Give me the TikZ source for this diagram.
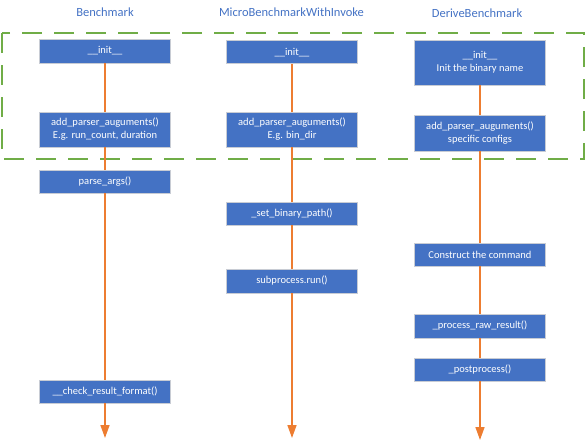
\documentclass[tikz,border=0pt]{standalone}
\usepackage{fontspec}
\setmainfont{Carlito}
\usetikzlibrary{arrows.meta}
\definecolor{boxblue}{HTML}{4472C4}
\definecolor{flow}{HTML}{ED7D31}
\definecolor{grp}{HTML}{70AD47}
\definecolor{boxedge}{HTML}{C8CCD4}
\tikzset{
  fn/.style={rectangle, fill=boxblue, draw=boxedge, line width=0.8pt, text=white,
    minimum width=131pt, inner sep=0pt, align=center,
    font=\fontsize{10.5}{13}\selectfont},
  title/.style={text=boxblue, font=\fontsize{12.5}{14}\selectfont, inner sep=0pt},
  flowline/.style={draw=flow, line width=1.5pt},
  flowend/.style={flowline, -{Triangle[width=9pt,length=13pt]}},
  group/.style={draw=grp, line width=1.3pt, dash pattern=on 20pt off 12pt}
}
\begin{document}
\begin{tikzpicture}[x=1pt,y=-1pt]
\useasboundingbox (0,0) rectangle (586,442);
\draw[group] (2,33) rectangle (584,159);
% titles
\node[title] (t1) at (105,12) {Benchmark};
\node[title] (t2) at (291.5,12) {MicroBenchmarkWithInvoke};
\node[title] (t3) at (477,13) {DeriveBenchmark};
% Benchmark
\node[fn, minimum height=24pt] (b1) at (105,51) {\_\_init\_\_};
\node[fn, minimum height=35pt] (b2) at (105,129.5) {add\_parser\_auguments()\\E.g. run\_count, duration};
\node[fn, minimum height=23pt] (b3) at (105,181.5) {parse\_args()};
\node[fn, minimum height=23pt] (b4) at (105,391.5) {\_\_check\_result\_format()};
\coordinate (be) at (105,438);
% Micro
\node[fn, minimum height=23pt] (m1) at (292,52.3) {\_\_init\_\_};
\node[fn, minimum height=35pt] (m2) at (292,129.5) {add\_parser\_auguments()\\E.g. bin\_dir};
\node[fn, minimum height=23pt] (m3) at (292,213.5) {\_set\_binary\_path()};
\node[fn, minimum height=24pt] (m4) at (292,281) {subprocess.run()};
\coordinate (me) at (292,438);
% Derive
\node[fn, minimum height=45pt] (d1) at (480,62.5) {\_\_init\_\_\\Init the binary name};
\node[fn, minimum height=36pt] (d2) at (480,133) {add\_parser\_auguments()\\specific configs};
\node[fn, minimum height=23pt] (d3) at (480,254.5) {Construct the command};
\node[fn, minimum height=24pt] (d4) at (480,326) {\_process\_raw\_result()};
\node[fn, minimum height=23pt] (d5) at (480,369.5) {\_postprocess()};
\coordinate (de) at (480,440);
% flow lines
\draw[flowline] (b1) -- (b2);
\draw[flowline] (b2) -- (b3);
\draw[flowline] (b3) -- (b4);
\draw[flowend] (b4) -- (be);
\draw[flowline] (m1) -- (m2);
\draw[flowline] (m2) -- (m3);
\draw[flowline] (m3) -- (m4);
\draw[flowend] (m4) -- (me);
\draw[flowline] (d1) -- (d2);
\draw[flowline] (d2) -- (d3);
\draw[flowline] (d3) -- (d4);
\draw[flowline] (d4) -- (d5);
\draw[flowend] (d5) -- (de);
\end{tikzpicture}
\end{document}
